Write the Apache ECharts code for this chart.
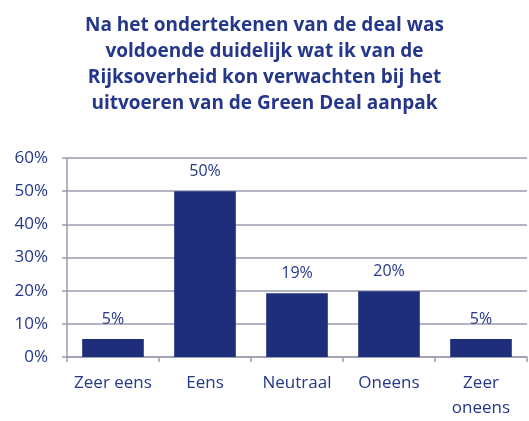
<!DOCTYPE html>
<html>
<head>
  <meta charset="utf-8">
  <script src="https://cdn.jsdelivr.net/npm/echarts@6/dist/echarts.min.js"></script>
  <style>body{margin:0;background:#fff}</style>
</head>
<body>
  <div id="main" style="width: 529px; height: 421px;"></div>
  <script>
    const categories = ['Zeer eens', 'Eens', 'Neutraal', 'Oneens', 'Zeer\noneens'];
    const values = [5.4, 50, 19.2, 19.8, 5.4];
    const labels = ['5%', '50%', '19%', '20%', '5%'];
    const titleText = 'Na het ondertekenen van de deal was\nvoldoende duidelijk wat ik van de\nRijksoverheid kon verwachten bij het\nuitvoeren van de Green Deal aanpak';

    const navy = '#1f2e7a';
    const textBlue = '#24378a';
    const gridGray = '#9a9cb0';

    const chart = echarts.init(document.getElementById('main'));
    chart.setOption({
      animation: false,
      title: {
        text: titleText,
        left: 'center',
        top: 8,
        textStyle: {
          fontFamily: 'Open Sans',
          fontWeight: 'bold',
          fontSize: 19,
          lineHeight: 26,
          color: textBlue
        }
      },
      grid: { left: 67, right: 2, top: 158, bottom: 64 },
      xAxis: {
        type: 'category',
        data: categories,
        axisLine: { lineStyle: { color: gridGray, width: 1.5 } },
        axisTick: { show: true, length: 5, lineStyle: { color: gridGray, width: 1.5 } },
        axisLabel: {
          interval: 0,
          hideOverlap: false,
          color: textBlue,
          fontFamily: 'Open Sans',
          fontSize: 17,
          lineHeight: 25,
          margin: 14
        }
      },
      yAxis: {
        type: 'value',
        min: 0,
        max: 60,
        interval: 10,
        axisLine: { show: true, lineStyle: { color: gridGray, width: 1.5 } },
        axisTick: { show: true, length: 5, lineStyle: { color: gridGray, width: 1.5 } },
        splitLine: { lineStyle: { color: gridGray, width: 1.5 } },
        axisLabel: {
          formatter: '{value}%',
          color: textBlue,
          fontFamily: 'Open Sans',
          fontSize: 17,
          margin: 19
        }
      },
      series: [{
        type: 'bar',
        data: values,
        barCategoryGap: '33%',
        itemStyle: { color: navy },
        label: {
          show: true,
          position: 'top',
          distance: 12,
          color: textBlue,
          fontFamily: 'Open Sans',
          fontSize: 16,
          formatter: p => labels[p.dataIndex]
        }
      }]
    });
  </script>
</body>
</html>
